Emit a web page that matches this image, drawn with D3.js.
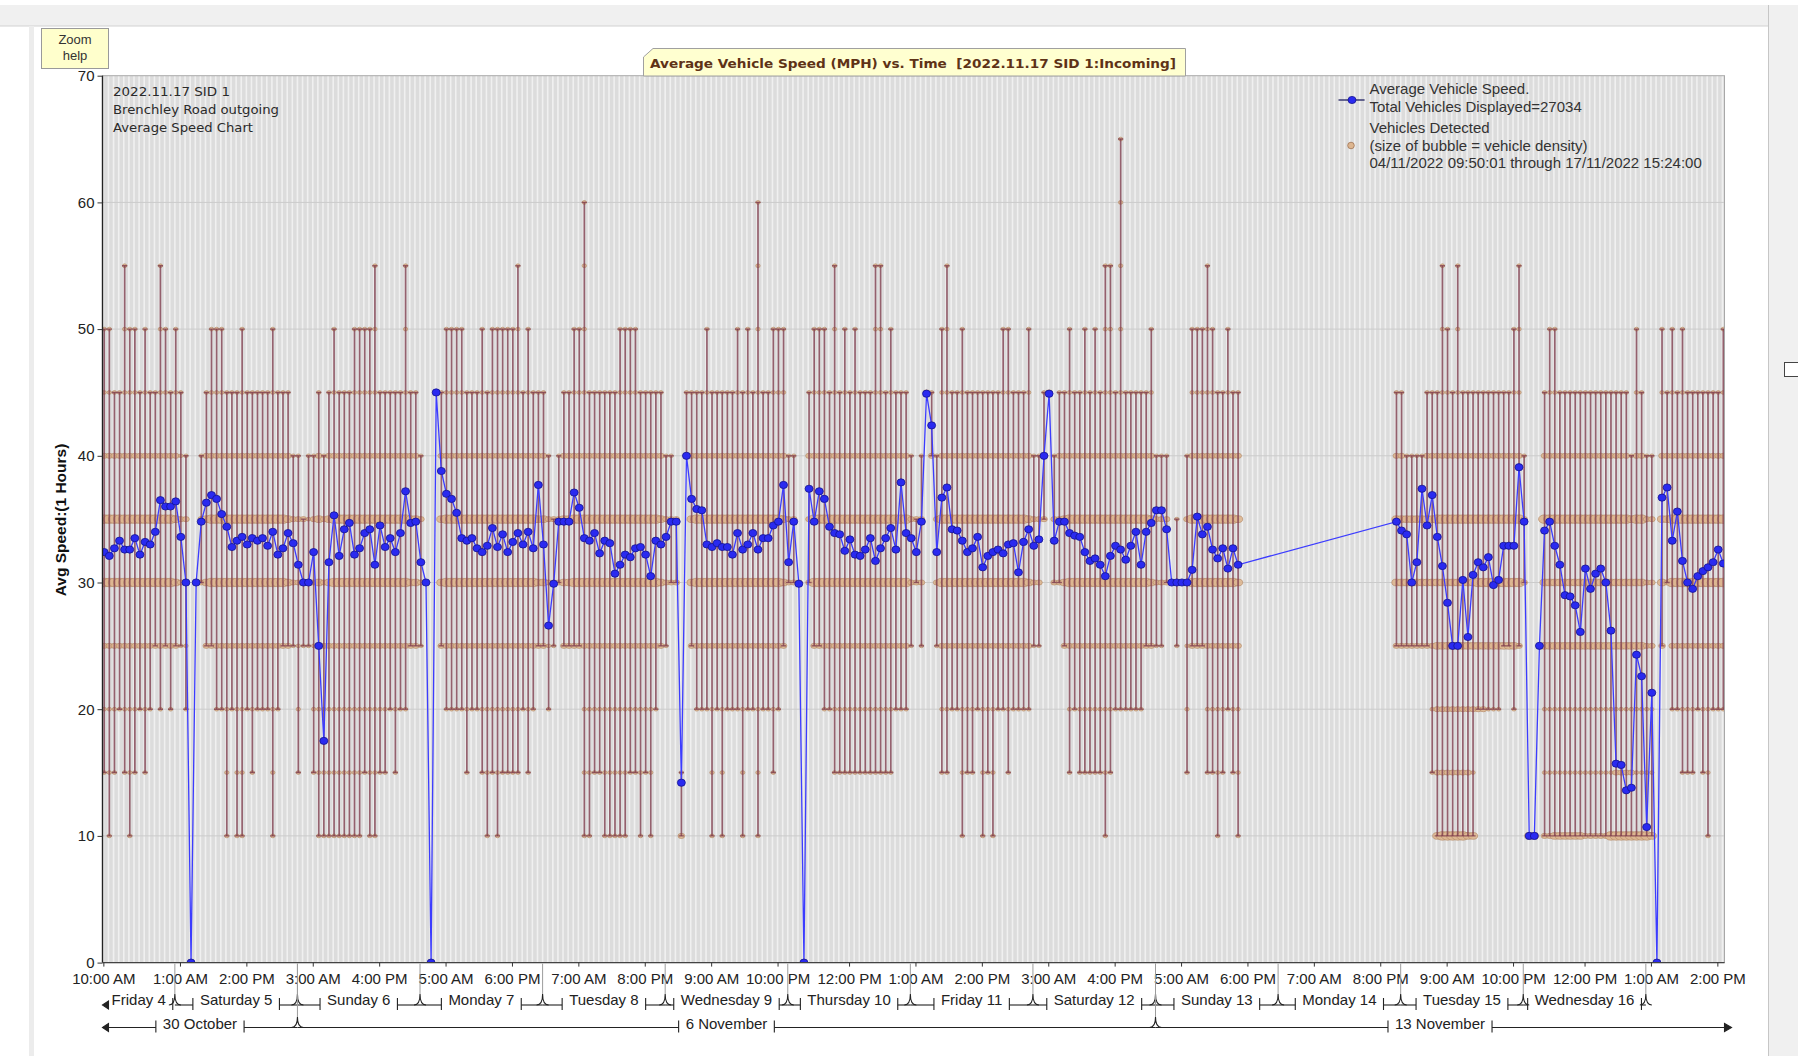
<!DOCTYPE html>
<html>
<head>
<meta charset="utf-8">
<title>Average Vehicle Speed</title>
<script src="https://cdn.jsdelivr.net/npm/d3@7/dist/d3.min.js"></script>
<style>
  body { margin: 0; background: #fff; }
  svg { display: block; font-family: "Liberation Sans", Arial, sans-serif; }
</style>
</head>
<body>
<svg id="chart" width="1798" height="1056"></svg>
<script>
// one slot per hour, first slot 04/11/2022 10:10 (UTC everywhere so no DST surprises)
const firstSlot = Date.UTC(2022, 10, 4, 10, 10);
const speedBins = [10, 15, 20, 25, 30, 35, 40, 45, 50, 55, 60, 65];

// average speed per hour (null = no data, the line just jumps the gap)
const avgSpeed = [
  // Fri 4
  32.4, 32.1, 32.7, 33.3, 32.6, 32.6, 33.5, 32.2, 33.2, 33.0, 34.0, 36.5, 36.0, 36.0,
  // Sat 5
  36.4, 33.6, 30, 0, 30, 34.8, 36.3, 36.9, 36.6, 35.4, 34.4, 32.8, 33.3, 33.6, 33.0, 33.5, 33.3, 33.5, 32.9, 34.0, 32.2, 32.7, 33.9, 33.1,
  // Sun 6
  31.4, 30, 30, 32.4, 25, 17.5, 31.6, 35.3, 32.1, 34.2, 34.7, 32.2, 32.7, 33.9, 34.2, 31.4, 34.5, 32.8, 33.5, 32.4, 33.9, 37.2, 34.7, 34.8,
  // Mon 7
  31.6, 30, 0, 45, 38.8, 37, 36.6, 35.5, 33.5, 33.3, 33.5, 32.7, 32.4, 32.9, 34.3, 32.8, 33.8, 32.4, 33.2, 33.9, 33.0, 34.0, 32.7, 37.7,
  // Tue 8
  33.0, 26.6, 29.9, 34.8, 34.8, 34.8, 37.1, 35.9, 33.5, 33.3, 33.9, 32.3, 33.3, 33.1, 30.7, 31.4, 32.2, 32.0, 32.7, 32.8, 32.2, 30.5, 33.3, 33.0,
  // Wed 9
  33.6, 34.8, 34.8, 14.2, 40.0, 36.6, 35.8, 35.7, 33.0, 32.8, 33.1, 32.8, 32.8, 32.2, 33.9, 32.6, 33.0, 33.9, 32.6, 33.5, 33.5, 34.5, 34.8, 37.7,
  // Thu 10
  31.6, 34.8, 29.9, 0, 37.4, 34.8, 37.2, 36.6, 34.4, 33.9, 33.8, 32.5, 33.4, 32.2, 32.1, 32.6, 33.5, 31.7, 32.7, 33.5, 34.3, 32.6, 37.9, 33.9,
  // Fri 11
  33.5, 32.4, 34.8, 44.9, 42.4, 32.4, 36.7, 37.5, 34.2, 34.1, 33.3, 32.4, 32.7, 33.6, 31.2, 32.1, 32.4, 32.6, 32.3, 33.0, 33.1, 30.8, 33.2, 34.2,
  // Sat 12
  32.9, 33.4, 40.0, 44.9, 33.3, 34.8, 34.8, 33.9, 33.7, 33.6, 32.4, 31.7, 31.9, 31.4, 30.5, 32.1, 32.9, 32.6, 31.8, 32.9, 34.0, 31.4, 34.0, 34.7,
  // Sun 13 (until 22h)
  35.7, 35.7, 34.2, 30, 30, 30, 30, 31.0, 35.2, 33.8, 34.4, 32.6, 31.9, 32.7, 31.1, 32.7, 31.4,
  // no data
  null, null, null, null, null, null, null, null, null, null, null, null, null, null, null,
  null, null, null, null, null, null, null, null, null, null, null, null, null, null, null,
  // Mon 14 23h, Tue 15
  34.8, 34.1, 33.8, 30, 31.6, 37.4, 34.5, 36.9, 33.6, 31.3, 28.4, 25, 25, 30.2, 25.7, 30.6, 31.6, 31.2, 32.0, 29.8, 30.2, 32.9, 32.9, 32.9, 39.1,
  // Wed 16
  34.8, 10, 10, 25, 34.1, 34.8, 32.9, 31.4, 29.0, 28.9, 28.2, 26.1, 31.1, 29.5, 30.7, 31.1, 30.0, 26.2, 15.7, 15.6, 13.6, 13.8, 24.3, 22.6,
  // Thu 17
  10.7, 21.3, 0, 36.7, 37.5, 33.3, 35.6, 31.7, 30, 29.5, 30.5, 30.9, 31.2, 31.6, 32.6, 31.5
];

// bubble size per speed bin (10,15,...,65 mph), one digit each, 0 = nobody at that speed
const bubbleSizes = [
  // Fri 4
  "011244211000", "111244211000", "011244210000", "001244210000", "011244211100", "111244211000", "011244211000",
  "001244210000", "011244211000", "001244210000", "000244210000", "001244211100", "000244211000", "001244210000",
  // Sat 5
  "000233211000", "000122110000", "001122100000", "000000000000", "000020000000", "000022100000", "000233210000", "000244211000",
  "001244211000", "001244211000", "111244210000", "001244210000", "111244210000", "111244211000", "001244210000", "011244210000",
  "001244210000", "001244210000", "001244210000", "111244211000", "001244210000", "000244210000", "000233210000", "000122100000",
  // Sun 6
  "011122100000", "000122000000", "000121100000", "011122100000", "111233210000", "111222100000", "111233210000", "111244211000",
  "111244210000", "111244210000", "111244210000", "111244211000", "111244211000", "011244211000", "111244211000", "111244211100",
  "011244210000", "011244210000", "001244210000", "011244210000", "001244210000", "001244211100", "000233210000", "000233210000",
  // Mon 7
  "000122100000", "000020000000", "000000000000", "000000020000", "000233210000", "001244211000", "001244211000", "001244211000",
  "001244211000", "011244210000", "001244210000", "001244210000", "011244211000", "111244210000", "011244211000", "111244211000",
  "011244211000", "011244211000", "011244211000", "011244211100", "001244210000", "011244211000", "001244210000", "000233210000",
  // Tue 8
  "000233210000", "001122100000", "000122000000", "000022100000", "000233210000", "000233210000", "000244211000", "000244211000",
  "111244211110", "111244210000", "011244210000", "011244210000", "111244210000", "111244210000", "111244210000", "111244211000",
  "111244211000", "011244211000", "011244211000", "111244210000", "011244210000", "111244210000", "001244210000", "000233210000",
  // Wed 9
  "000122100000", "000022100000", "000022000000", "210000000000", "000000210000", "000233210000", "001244210000", "001244210000",
  "001244211000", "111244210000", "001244210000", "111244210000", "001244210000", "001244210000", "001244211000", "111244210000",
  "001244211000", "001244210000", "111244211110", "001244210000", "001244210000", "011244211000", "001244211000", "000233211000",
  // Thu 10
  "000022100000", "000022100000", "000020000000", "000000000000", "000022210000", "000244211000", "000244211000", "001244211000",
  "001244210000", "011244211100", "011244210000", "011244211000", "011244210000", "011244211000", "011244210000", "011244210000",
  "011244210000", "011244211100", "011244211100", "011244210000", "011244211000", "001244210000", "001244210000", "001244210000",
  // Fri 11
  "000122100000", "000022000000", "000122100000", "000000020000", "000000210000", "000122100000", "011244211000", "011244211100",
  "001244210000", "001244210000", "111244211000", "011244210000", "011244210000", "001244210000", "111244210000", "011244210000",
  "111244210000", "001244210000", "001244211000", "011244211000", "001244210000", "001244210000", "001244210000", "001233211000",
  // Sat 12
  "000122100000", "000122100000", "000002210000", "000000020000", "000022100000", "000022210000", "000233210000", "011244211000",
  "001244210000", "011244210000", "011244211000", "011244210000", "011244211000", "011244210000", "111244211100", "011244211100",
  "001244210000", "001244211111", "001244210000", "001244210000", "001244210000", "001244210000", "000244210000", "000233211000",
  // Sun 13
  "000122100000", "000122100000", "000022100000", "000020000000", "000121000000", "000020000000", "011122100000", "000244211000",
  "000244211000", "000244211000", "011244211100", "011244211000", "111244210000", "011244210000", "001244211000", "011244210000",
  "111233210000",
  // no data
  "", "", "", "", "", "", "", "", "", "", "", "", "", "", "",
  "", "", "", "", "", "", "", "", "", "", "", "", "", "", "",
  // Mon 14 23h, Tue 15
  "000233210000", "000233210000", "000233100000", "000233100000", "000233100000", "000233100000", "000233210000", "011233210000",
  "322334210000", "422334211100", "422334211000", "422334210000", "422334211100", "422334210000", "322334210000", "312334210000",
  "002344210000", "002344210000", "001344210000", "001344210000", "001344210000", "000344210000", "000344210000", "001344211000",
  "000244211100",
  // Wed 16
  "000022100000", "300000000000", "300000000000", "000200000000", "211334210000", "211334211000", "311334211000", "311334210000",
  "311334210000", "311334210000", "311334210000", "311334210000", "211334210000", "211334210000", "211334210000", "211334210000",
  "211334210000", "411334210000", "421334210000", "421334210000", "421334210000", "421333100000", "411334211000", "411334210000",
  // Thu 17
  "411222100000", "311222100000", "000000000000", "000233211000", "000023210000", "001244211000", "001244210000", "011244211000",
  "011244210000", "011244210000", "001244210000", "011244210000", "111244210000", "001244210000", "001244210000", "001244211000"
];

const yTicks = [0, 10, 20, 30, 40, 50, 60, 70];
const xTickTimes = [
  "2022-11-04 10:00", "2022-11-05 01:00", "2022-11-05 14:00", "2022-11-06 03:00", "2022-11-06 16:00",
  "2022-11-07 05:00", "2022-11-07 18:00", "2022-11-08 07:00", "2022-11-08 20:00", "2022-11-09 09:00",
  "2022-11-09 22:00", "2022-11-10 12:00", "2022-11-11 01:00", "2022-11-11 14:00", "2022-11-12 03:00",
  "2022-11-12 16:00", "2022-11-13 05:00", "2022-11-13 18:00", "2022-11-14 07:00", "2022-11-14 20:00",
  "2022-11-15 09:00", "2022-11-15 22:00", "2022-11-16 12:00", "2022-11-17 01:00", "2022-11-17 14:00"
];
const infoLines = ["2022.11.17 SID 1", "Brenchley Road outgoing", "Average Speed Chart"];
const legendLines = ["Average Vehicle Speed.", "Total Vehicles Displayed=27034",
  "Vehicles Detected", "(size of bubble = vehicle density)", "04/11/2022 09:50:01 through 17/11/2022 15:24:00"];
const chartTitle = "Average Vehicle Speed (MPH) vs. Time\u00a0\u00a0[2022.11.17 SID 1:Incoming]";

const plot = { left: 102.5, right: 1724.5, top: 75.7, bottom: 962.6 };
const parseTick = d3.utcParse("%Y-%m-%d %H:%M");
const slotTime = k => new Date(firstSlot + k * 3600e3);

const x = d3.scaleUtc()
  .domain([Date.UTC(2022, 10, 4, 9, 50), Date.UTC(2022, 10, 17, 15, 24)])
  .range([plot.left, plot.right]);
const y = d3.scaleLinear().domain([0, 70]).range([plot.bottom, plot.top]);

const svg = d3.select("#chart");

// window chrome round the chart
svg.append("rect").attr("x", 0).attr("y", 5).attr("width", 1798).attr("height", 21).attr("fill", "#f0f0f0");
svg.append("line").attr("x1", 0).attr("x2", 1768).attr("y1", 26).attr("y2", 26).attr("stroke", "#d2d2d2");
svg.append("rect").attr("x", 29).attr("y", 26).attr("width", 5).attr("height", 1030).attr("fill", "#ececec");
svg.append("rect").attr("x", 1768).attr("y", 5).attr("width", 30).attr("height", 1051).attr("fill", "#f0f0f0");
svg.append("line").attr("x1", 1768.5).attr("x2", 1768.5).attr("y1", 5).attr("y2", 1056).attr("stroke", "#c6c6c6");
svg.append("rect").attr("x", 1784.5).attr("y", 362.5).attr("width", 14).attr("height", 14)
  .attr("fill", "#fff").attr("stroke", "#444");

// zoom help button
svg.append("rect").attr("x", 41.5).attr("y", 28.5).attr("width", 67).attr("height", 40)
  .attr("fill", "#ffffcc").attr("stroke", "#9a9a9a");
svg.selectAll(".zoomhelp").data(["Zoom", "help"]).join("text")
  .attr("x", 75).attr("y", (d, i) => 44 + i * 16)
  .attr("text-anchor", "middle").attr("font-size", 13).attr("fill", "#333").text(d => d);

// plot background with the hourly stripes
svg.append("clipPath").attr("id", "plotclip").append("rect")
  .attr("x", plot.left).attr("y", plot.top)
  .attr("width", plot.right - plot.left).attr("height", plot.bottom - plot.top);

const body = svg.append("g").attr("clip-path", "url(#plotclip)");
body.append("rect")
  .attr("x", plot.left).attr("y", plot.top)
  .attr("width", plot.right - plot.left).attr("height", plot.bottom - plot.top)
  .attr("fill", "#dcdcdc");
body.append("g")
  .selectAll("line")
  .data(d3.utcHour.range(...x.domain()))
  .join("line")
    .attr("x1", d => x(d)).attr("x2", d => x(d))
    .attr("y1", plot.top).attr("y2", plot.bottom)
    .attr("stroke", "#f0f0f0").attr("stroke-width", 1.6);
body.append("g")
  .selectAll("line")
  .data(yTicks.slice(1, -1))
  .join("line")
    .attr("x1", plot.left).attr("x2", plot.right)
    .attr("y1", d => y(d)).attr("y2", d => y(d))
    .attr("stroke", "#cbcbcb");

const slots = bubbleSizes.map((s, k) => {
  const bins = [];
  for (let i = 0; i < s.length; i++) if (+s[i] > 0) bins.push({ speed: speedBins[i], size: +s[i] });
  return { k, t: slotTime(k), bins, avg: avgSpeed[k] };
});

// vehicle density bubbles
const rx = [0, 2.2, 3.4, 4.6, 6.0, 7.2];
const ry = [0, 1.9, 2.6, 3.4, 4.3, 5.2];
body.append("g")
  .selectAll("ellipse")
  .data(slots.flatMap(d => d.bins.map(b => ({ t: d.t, ...b }))))
  .join("ellipse")
    .attr("cx", d => x(d.t)).attr("cy", d => y(d.speed))
    .attr("rx", d => rx[d.size]).attr("ry", d => ry[d.size])
    .attr("fill", "#ddb690").attr("fill-opacity", 0.9)
    .attr("stroke", "#b08462").attr("stroke-width", 0.6);

// range bars (slowest to fastest vehicle of the hour)
const barColor = "#7e3b4b";
const bars = body.append("g").attr("stroke", barColor).attr("stroke-opacity", 0.78);
slots.filter(d => d.bins.length > 0).forEach(d => {
  const cx = x(d.t);
  const lo = d.bins[0].speed, hi = d.bins[d.bins.length - 1].speed;
  if (hi > lo) {
    bars.append("line").attr("x1", cx).attr("x2", cx).attr("y1", y(lo)).attr("y2", y(hi)).attr("stroke-width", 1.7);
  }
  [lo, hi].forEach(v => bars.append("line")
    .attr("x1", cx - 2.6).attr("x2", cx + 2.6).attr("y1", y(v)).attr("y2", y(v)).attr("stroke-width", 1.4));
});

// average speed line
const points = slots.filter(d => d.avg != null);
body.append("path")
  .datum(points)
  .attr("fill", "none").attr("stroke", "#3c3cff").attr("stroke-width", 1.3)
  .attr("d", d3.line().x(d => x(d.t)).y(d => y(d.avg)));
body.append("g")
  .selectAll("ellipse")
  .data(points)
  .join("ellipse")
    .attr("cx", d => x(d.t)).attr("cy", d => y(d.avg)).attr("rx", 4).attr("ry", 3.6)
    .attr("fill", "#2a2af0").attr("stroke", "#141490").attr("stroke-width", 0.8);

// frame
svg.append("rect")
  .attr("x", plot.left).attr("y", plot.top)
  .attr("width", plot.right - plot.left).attr("height", plot.bottom - plot.top)
  .attr("fill", "none").attr("stroke", "#a8a8a8");
svg.append("line").attr("x1", plot.left).attr("x2", plot.left).attr("y1", plot.top).attr("y2", plot.bottom)
  .attr("stroke", "#222").attr("stroke-width", 1.4);
svg.append("line").attr("x1", plot.left).attr("x2", plot.right).attr("y1", plot.bottom).attr("y2", plot.bottom)
  .attr("stroke", "#444").attr("stroke-width", 1.4);

// text inside the plot, top left
svg.append("g").selectAll("text").data(infoLines).join("text")
  .attr("x", 113).attr("y", (d, i) => 95.5 + i * 18)
  .attr("font-family", "'DejaVu Sans', sans-serif").attr("font-size", 13).attr("fill", "#2a2a2a")
  .attr("textLength", (d, i) => [117, 166, 140][i]).attr("lengthAdjust", "spacingAndGlyphs")
  .text(d => d);

// legend
const legend = svg.append("g").attr("font-size", 15).attr("fill", "#333");
legend.selectAll("text").data(legendLines).join("text")
  .attr("x", 1369.5).attr("y", (d, i) => [94, 111.7, 133, 150.7, 168][i]).text(d => d);
legend.append("line").attr("x1", 1338.5).attr("x2", 1364.6).attr("y1", 100).attr("y2", 100)
  .attr("stroke", "#202060").attr("stroke-width", 1.3);
legend.append("ellipse").attr("cx", 1352).attr("cy", 100).attr("rx", 4).attr("ry", 3.6)
  .attr("fill", "#2a2af0").attr("stroke", "#141490").attr("stroke-width", 0.8);
legend.append("circle").attr("cx", 1351).attr("cy", 145.5).attr("r", 3.3)
  .attr("fill", "#ddb690").attr("stroke", "#a07454").attr("stroke-width", 0.8);

// axes
const yAxis = svg.append("g").attr("transform", `translate(${plot.left},0)`)
  .call(d3.axisLeft(y).tickValues(yTicks).tickSize(5).tickPadding(3));
const xAxis = svg.append("g").attr("transform", `translate(0,${plot.bottom})`)
  .call(d3.axisBottom(x).tickValues(xTickTimes.map(parseTick)).tickSize(4).tickPadding(7)
    .tickFormat(d3.utcFormat("%-I:%M %p")));
[yAxis, xAxis].forEach(a => {
  a.select(".domain").remove();
  a.selectAll("text").attr("font-size", 15).attr("font-family", "'Liberation Sans', Arial, sans-serif").attr("fill", "#222");
  a.selectAll(".tick line").attr("stroke", "#333");
});

svg.append("text")
  .attr("transform", "translate(60,520) rotate(-90)")
  .attr("text-anchor", "middle").attr("dominant-baseline", "central")
  .attr("font-size", 15.5).attr("font-weight", "bold").attr("fill", "#111")
  .text("Avg Speed:(1 Hours)");

// title tab
svg.append("path")
  .attr("d", "M643.5,57 L653,48.5 L1185.5,48.5 L1185.5,76 L643.5,76 Z")
  .attr("fill", "#ffffd0").attr("stroke", "#a0a0a0");
svg.append("text")
  .attr("x", 913).attr("y", 67.5).attr("text-anchor", "middle")
  .attr("font-family", "'DejaVu Sans', sans-serif").attr("font-weight", "bold").attr("font-size", 12.5)
  .attr("textLength", 526).attr("lengthAdjust", "spacingAndGlyphs")
  .attr("fill", "#5e3216").text(chartTitle);

// day and week bracket rows under the time axis
function bracketRow(rowY, lineY, intervals, fmt, tipTop) {
  const g = svg.append("g").attr("stroke", "#222").attr("fill", "none").attr("stroke-width", 1.1);
  const labels = svg.append("g").attr("font-size", 15).attr("fill", "#222");
  const [x0, x1] = x.range();
  const segs = intervals.map(([s, e]) => ({ s, e, a: Math.max(x(s), x0), b: Math.min(x(e), x1) }));
  segs.forEach(d => {
    const mid = (d.a + d.b) / 2;
    const t = labels.append("text").attr("x", mid).attr("y", rowY + 5).attr("text-anchor", "middle").text(fmt(d.s));
    const w = t.node().getComputedTextLength();
    if (w + 14 > d.b - d.a) { t.remove(); return; }
    const l = mid - w / 2 - 7, r = mid + w / 2 + 7;
    const clipL = x(d.s) < x0, clipR = x(d.e) > x1;
    if (l - d.a > 3) g.append("line").attr("x1", d.a).attr("x2", l).attr("y1", lineY).attr("y2", lineY);
    if (d.b - r > 3) g.append("line").attr("x1", r).attr("x2", d.b).attr("y1", lineY).attr("y2", lineY);
    if (!clipL || l - d.a > 8) g.append("line").attr("x1", l).attr("x2", l).attr("y1", lineY - 7).attr("y2", lineY + 5);
    if (!clipR || d.b - r > 8) g.append("line").attr("x1", r).attr("x2", r).attr("y1", lineY - 7).attr("y2", lineY + 5);
    if (clipL) g.append("path").attr("d", `M${d.a},${lineY} l6,-4 v8 z`).attr("fill", "#222");
    if (clipR) g.append("path").attr("d", `M${d.b + 7},${lineY} l-7,-4 v8 z`).attr("fill", "#222");
  });
  // brace tips where two periods meet, with a hairline up to the axis
  segs.slice(1).forEach(d => {
    const m = x(d.s);
    svg.append("line").attr("x1", m).attr("x2", m).attr("y1", plot.bottom + 1).attr("y2", tipTop)
      .attr("stroke", "#9c9c9c").attr("stroke-width", 1);
    g.append("path").attr("d", `M${m - 6},${lineY} Q${m},${lineY} ${m},${tipTop} Q${m},${lineY} ${m + 6},${lineY}`);
  });
}

const [domStart, domEnd] = x.domain();
bracketRow(1000, 1005,
  d3.utcDay.range(d3.utcDay.floor(domStart), domEnd).map(d => [d, d3.utcDay.offset(d, 1)]),
  d3.utcFormat("%A %-d"), 994);
bracketRow(1024, 1027.5,
  d3.utcSunday.range(d3.utcSunday.floor(domStart), domEnd).map(d => [d, d3.utcSunday.offset(d, 1)]),
  d3.utcFormat("%-d %B"), 1017);

console.assert(avgSpeed.length === 318 && bubbleSizes.length === 318, "slot arrays out of step");
</script>
</body>
</html>
